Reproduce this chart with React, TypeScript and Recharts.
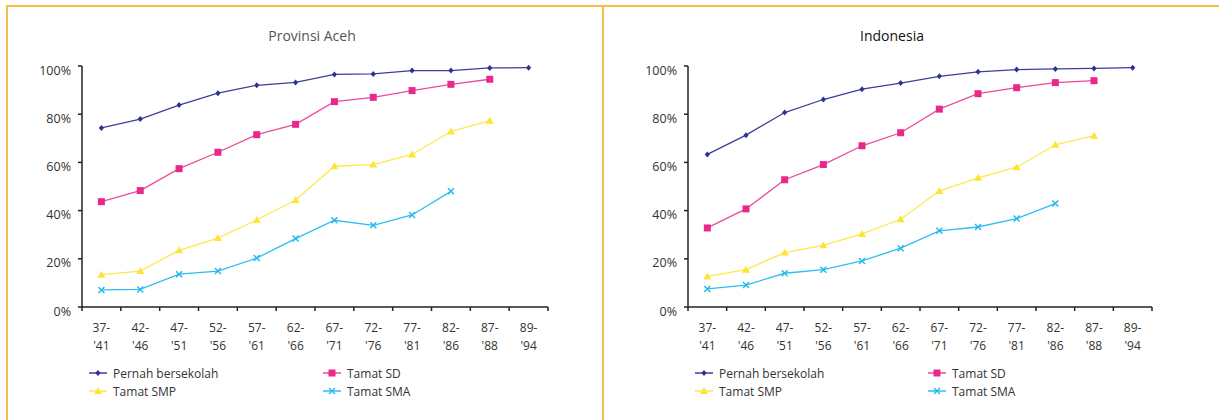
import { LineChart, Line, XAxis, YAxis, Legend } from 'recharts';

const periodStart = ["37-", "42-", "47-", "52-", "57-", "62-", "67-", "72-", "77-", "82-", "87-", "89-"];
const periodEnd = ["'41", "'46", "'51", "'56", "'61", "'66", "'71", "'76", "'81", "'86", "'88", "'94"];
const yTicks = [0, 20, 40, 60, 80, 100];

// Provinsi Aceh
const acehPernah = [74.3, 78.0, 83.8, 88.7, 92.0, 93.2, 96.5, 96.7, 98.1, 98.1, 99.2, 99.3];
const acehSD = [43.7, 48.3, 57.4, 64.2, 71.5, 75.8, 85.2, 87.0, 89.8, 92.4, 94.5, null];
const acehSMP = [13.4, 14.9, 23.5, 28.6, 36.1, 44.4, 58.4, 59.1, 63.3, 72.8, 77.3, null];
const acehSMA = [7.1, 7.3, 13.6, 14.9, 20.3, 28.4, 36.0, 33.9, 38.2, 48.0, null, null];

// Indonesia
const indoPernah = [63.3, 71.3, 80.7, 86.1, 90.4, 92.9, 95.7, 97.6, 98.5, 98.8, 99.0, 99.3];
const indoSD = [32.8, 40.7, 52.8, 59.1, 66.9, 72.3, 82.1, 88.5, 91.0, 93.1, 93.9, null];
const indoSMP = [12.7, 15.5, 22.6, 25.6, 30.3, 36.4, 48.1, 53.6, 58.0, 67.3, 71.1, null];
const indoSMA = [7.5, 9.1, 14.0, 15.5, 19.1, 24.4, 31.6, 33.2, 36.7, 42.9, null, null];

const FONT = '"Open Sans", "Noto Sans", sans-serif';
const BORDER = '#f3bf4a';
const AXIS = '#222';

const series = [
  { key: 'pernah', name: 'Pernah bersekolah', line: '#3d3f96', mark: '#2e3192', shape: 'diamond' },
  { key: 'sd', name: 'Tamat SD', line: '#ec4b9b', mark: '#e8288a', shape: 'square' },
  { key: 'smp', name: 'Tamat SMP', line: '#fde84a', mark: '#fce534', shape: 'triangle' },
  { key: 'sma', name: 'Tamat SMA', line: '#2bbff0', mark: '#1eb8ee', shape: 'cross' },
];

const buildRows = (pernah, sd, smp, sma) =>
  periodStart.map((p, i) => ({ start: p, pernah: pernah[i], sd: sd[i], smp: smp[i], sma: sma[i] }));

const acehData = buildRows(acehPernah, acehSD, acehSMP, acehSMA);
const indoData = buildRows(indoPernah, indoSD, indoSMP, indoSMA);

function Marker({ shape, color, x, y }) {
  if (shape === 'diamond')
    return <path d={`M${x},${y - 3}L${x + 2.6},${y}L${x},${y + 3}L${x - 2.6},${y}Z`} fill={color} />;
  if (shape === 'square')
    return <rect x={x - 3.5} y={y - 3.5} width={7} height={7} fill={color} />;
  if (shape === 'triangle')
    return <path d={`M${x},${y - 4}L${x + 4},${y + 3}L${x - 4},${y + 3}Z`} fill={color} />;
  return (
    <path
      d={`M${x - 3},${y - 3}L${x + 3},${y + 3}M${x + 3},${y - 3}L${x - 3},${y + 3}`}
      stroke={color}
      strokeWidth={1.4}
      fill="none"
    />
  );
}

function YTick({ x, y, payload }) {
  return (
    <text x={x - 5} y={y + 4} textAnchor="end" dominantBaseline="central" fontSize={12.5} fill="#333" fontFamily={FONT}>
      {`${payload.value}%`}
    </text>
  );
}

// category labels in two lines, tick marks on the band edges
function XTick({ x, y, payload, index, visibleTicksCount }) {
  const i = periodStart.indexOf(payload.value);
  const half = payload.offset || 0;
  const last = index === visibleTicksCount - 1;
  return (
    <g>
      <line x1={x - half} y1={y} x2={x - half} y2={y + 4} stroke={AXIS} strokeWidth={1.5} />
      {last && <line x1={x + half} y1={y} x2={x + half} y2={y + 4} stroke={AXIS} strokeWidth={1.5} />}
      <text x={x} y={y + 20} textAnchor="middle" dominantBaseline="central" fontSize={12} fill="#333" fontFamily={FONT}>
        {payload.value}
      </text>
      <text x={x} y={y + 38} textAnchor="middle" dominantBaseline="central" fontSize={12} fill="#333" fontFamily={FONT}>
        {periodEnd[i]}
      </text>
    </g>
  );
}

function LegendBox({ col2 }) {
  return (
    <div style={{ display: 'grid', gridTemplateColumns: `${col2}px auto`, rowGap: 0, fontFamily: FONT, fontSize: 12, color: '#333' }}>
      {series.map((s) => (
        <div key={s.key} style={{ display: 'flex', alignItems: 'center', height: 18 }}>
          <svg width={20} height={12} style={{ marginRight: 5 }}>
            <line x1={1} y1={6} x2={19} y2={6} stroke={s.line} strokeWidth={1.5} />
            <Marker shape={s.shape} color={s.mark} x={10} y={6} />
          </svg>
          <span>{s.name}</span>
        </div>
      ))}
    </div>
  );
}

function Panel({ data, width, yWidth, right, legendLeft, col2 }) {
  return (
    <LineChart width={width} height={420} data={data} margin={{ top: 66, right, bottom: 63, left: 0 }}>
      <XAxis
        dataKey="start"
        scale="band"
        interval={0}
        height={50}
        stroke={AXIS}
        strokeWidth={1.5}
        axisLine
        tickLine={false}
        tickSize={0}
        tickMargin={0}
        tick={<XTick />}
      />
      <YAxis
        domain={[0, 100]}
        ticks={yTicks}
        interval={0}
        width={yWidth}
        tickSize={4}
        stroke={AXIS}
        strokeWidth={1.5}
        axisLine
        tickLine
        tick={<YTick />}
      />
      <Legend
        layout="horizontal"
        verticalAlign="middle"
        align="center"
        wrapperStyle={{ top: 364, left: legendLeft, width: 420 }}
        content={() => <LegendBox col2={col2} />}
      />
      {series.map((s) => (
        <Line
          key={s.key}
          dataKey={s.key}
          name={s.name}
          stroke={s.line}
          strokeWidth={1.3}
          isAnimationActive={false}
          dot={(p) =>
            p.cy == null ? (
              <g key={`${s.key}-${p.index}`} />
            ) : (
              <g key={`${s.key}-${p.index}`}>
                <Marker shape={s.shape} color={s.mark} x={p.cx} y={p.cy} />
              </g>
            )
          }
          activeDot={false}
        />
      ))}
    </LineChart>
  );
}

export default function App() {
  return (
    <div style={{ position: 'absolute', left: 0, top: 0, width: 1219, height: 420, overflow: 'hidden', background: '#fff' }}>
      <div style={{ position: 'absolute', left: 6, top: 5, width: 1213, height: 2, background: BORDER }} />
      <div style={{ position: 'absolute', left: 6, top: 5, width: 2, height: 415, background: BORDER }} />
      <div style={{ position: 'absolute', left: 602, top: 5, width: 2, height: 415, background: BORDER }} />

      <div style={{ position: 'absolute', left: 0, top: 0 }}>
        <Panel data={acehData} width={600} yWidth={82} right={52} legendLeft={88} col2={234} />
      </div>
      <div style={{ position: 'absolute', left: 603, top: 0 }}>
        <Panel data={indoData} width={616} yWidth={85} right={67} legendLeft={91} col2={233} />
      </div>

      <div style={{ position: 'absolute', left: 212, top: 26, width: 200, textAlign: 'center', fontFamily: FONT, fontSize: 14, color: '#555' }}>
        Provinsi Aceh
      </div>
      <div style={{ position: 'absolute', left: 792, top: 26, width: 200, textAlign: 'center', fontFamily: FONT, fontSize: 14, color: '#111' }}>
        Indonesia
      </div>
    </div>
  );
}
